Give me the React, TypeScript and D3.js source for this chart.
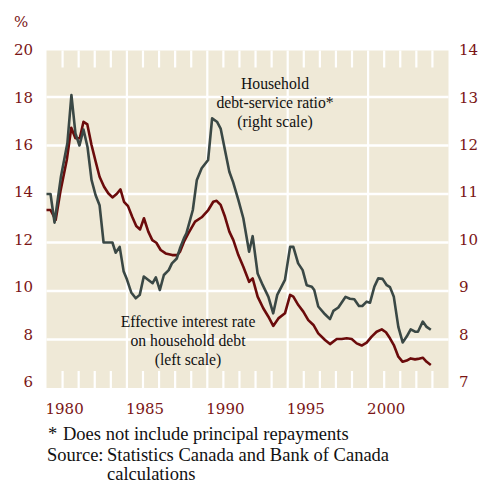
import React from "react";
import * as d3 from "d3";

// effective interest rate on household debt, % (left scale)
const rateYears = [1980.0, 1980.25, 1980.57, 1980.88, 1981.26, 1981.54, 1981.8, 1982.07, 1982.3, 1982.54, 1982.8, 1983.06, 1983.3, 1983.58, 1983.84, 1984.1, 1984.36, 1984.6, 1984.82, 1985.07, 1985.33, 1985.58, 1985.82, 1986.06, 1986.33, 1986.58, 1986.83, 1987.1, 1987.41, 1987.82, 1988.13, 1988.3, 1988.55, 1988.82, 1989.24, 1989.65, 1990.06, 1990.37, 1990.58, 1990.83, 1991.1, 1991.37, 1991.62, 1991.93, 1992.24, 1992.6, 1992.82, 1993.13, 1993.48, 1993.8, 1994.1, 1994.42, 1994.83, 1995.15, 1995.35, 1995.66, 1995.97, 1996.28, 1996.6, 1996.9, 1997.32, 1997.63, 1998.05, 1998.36, 1998.67, 1998.98, 1999.29, 1999.6, 1999.91, 2000.22, 2000.53, 2000.85, 2001.11, 2001.36, 2001.6, 2001.88, 2002.15, 2002.4, 2002.65, 2002.92, 2003.1, 2003.4, 2003.64, 2003.9];
const rateValues = [13.34, 13.34, 12.93, 14.16, 15.4, 16.73, 16.3, 16.3, 16.98, 16.87, 16.02, 15.33, 14.71, 14.3, 14.03, 13.86, 14.0, 14.19, 13.68, 13.5, 13.06, 12.68, 12.54, 13.0, 12.45, 12.1, 11.99, 11.69, 11.55, 11.48, 11.48, 11.62, 12.03, 12.38, 12.86, 13.04, 13.34, 13.68, 13.72, 13.55, 13.06, 12.45, 12.1, 11.48, 11.0, 10.38, 10.52, 9.77, 9.29, 8.94, 8.56, 8.87, 9.08, 9.84, 9.77, 9.42, 9.15, 8.8, 8.6, 8.25, 7.98, 7.81, 8.02, 8.02, 8.05, 8.02, 7.84, 7.75, 7.87, 8.12, 8.32, 8.42, 8.3, 8.05, 7.77, 7.29, 7.08, 7.13, 7.22, 7.18, 7.2, 7.25, 7.08, 6.95];

// household debt-service ratio, % (right scale)
const ratioYears = [1980.0, 1980.25, 1980.5, 1980.9, 1981.3, 1981.55, 1981.8, 1982.05, 1982.3, 1982.55, 1982.8, 1983.05, 1983.3, 1983.55, 1984.1, 1984.3, 1984.55, 1984.8, 1985.0, 1985.27, 1985.55, 1985.8, 1986.05, 1986.6, 1986.8, 1987.05, 1987.3, 1987.6, 1987.8, 1988.1, 1988.3, 1988.55, 1988.7, 1989.1, 1989.35, 1989.65, 1990.05, 1990.3, 1990.6, 1990.83, 1991.1, 1991.37, 1991.6, 1991.93, 1992.24, 1992.6, 1992.82, 1993.13, 1993.45, 1993.8, 1994.1, 1994.35, 1994.83, 1995.15, 1995.35, 1995.65, 1995.93, 1996.18, 1996.5, 1996.65, 1996.9, 1997.32, 1997.63, 1997.84, 1998.15, 1998.6, 1998.87, 1999.14, 1999.43, 1999.64, 1999.91, 2000.12, 2000.39, 2000.63, 2000.9, 2001.16, 2001.36, 2001.6, 2001.88, 2002.15, 2002.4, 2002.65, 2002.92, 2003.1, 2003.4, 2003.64, 2003.9];
const ratioValues = [11.0, 11.0, 10.41, 11.36, 12.05, 13.04, 12.25, 12.0, 12.33, 11.97, 11.29, 10.98, 10.77, 10.0, 10.0, 9.79, 9.91, 9.4, 9.24, 8.97, 8.85, 8.92, 9.3, 9.16, 9.28, 9.02, 9.33, 9.43, 9.57, 9.67, 9.88, 10.09, 10.19, 10.67, 11.29, 11.53, 11.7, 12.56, 12.49, 12.35, 11.9, 11.46, 11.25, 10.88, 10.5, 9.81, 10.13, 9.36, 9.12, 8.88, 8.54, 8.92, 9.23, 9.91, 9.91, 9.57, 9.43, 9.12, 9.09, 9.02, 8.68, 8.52, 8.42, 8.59, 8.66, 8.88, 8.84, 8.83, 8.69, 8.69, 8.78, 8.76, 9.09, 9.26, 9.25, 9.12, 9.08, 8.88, 8.26, 7.94, 8.06, 8.21, 8.16, 8.16, 8.37, 8.26, 8.2];

const leftTicks = [6, 8, 10, 12, 14, 16, 18, 20];
const rightTicks = [7, 8, 9, 10, 11, 12, 13, 14];
const yearLabels = [1980, 1985, 1990, 1995, 2000];
const minorYears = d3.range(1981, 2005);

const ratioNote = ["Household", "debt-service ratio*", "(right scale)"];
const rateNote = ["Effective interest rate", "on household debt", "(left scale)"];

const RED = "#6b0b0b";
const GREY = "#3a4845";
const LABEL = "#7a1515";
const BG = "#efe9d7";

export default function App() {
  const W = 483, H = 483;
  const left = 46.5, right = 448.5, bottom = 388;

  const x = d3.scaleLinear().domain([1980, 2005]).range([left, right]);
  const y = d3.scaleLinear().domain([6, 20]).range([bottom, 48.5]);
  const yR = d3.scaleLinear().domain([7, 14]).range([bottom, 48.5]);
  // tick labels sit a little tighter than the grid in the original
  const yLab = d3.scaleLinear().domain([6, 20]).range([381.5, 50]);
  const top = 50.5;

  const rateLine = d3.line<number>()
    .x((d, i) => x(rateYears[i]))
    .y((d) => y(d));
  const ratioLine = d3.line<number>()
    .x((d, i) => x(ratioYears[i]))
    .y((d) => yR(d));

  const tickFont = { fontFamily: "'DejaVu Serif', serif", fontSize: 15, fill: LABEL };
  const noteFont = { fontFamily: "'Liberation Serif', serif", fontSize: 15.7, fill: "#111" };

  return (
    <div style={{ position: "absolute", left: 0, top: 0 }}>
      <svg width={W} height={H} style={{ display: "block", background: "#fff" }}>
        <rect x={left} y={top} width={right - left} height={bottom - top} fill={BG} />
        {/* horizontal grid */}
        {leftTicks.filter((t) => t > 6 && t < 20).map((t) => (
          <line key={t} x1={left} x2={right} y1={y(t)} y2={y(t)} stroke="#fff" strokeWidth={2.5} />
        ))}
        {/* vertical 5-year grid */}
        {yearLabels.slice(1).map((yr) => (
          <line key={yr} x1={x(yr)} x2={x(yr)} y1={top} y2={bottom} stroke="#fff" strokeWidth={2.2} />
        ))}
        {/* yearly ticks top and bottom */}
        {minorYears.filter((yr) => yr % 5 !== 0).map((yr) => (
          <g key={yr}>
            <line x1={x(yr)} x2={x(yr)} y1={top} y2={top + 17} stroke="#fff" strokeWidth={2.2} />
            <line x1={x(yr)} x2={x(yr)} y1={bottom - 17} y2={bottom} stroke="#fff" strokeWidth={2.2} />
          </g>
        ))}

        <path d={rateLine(rateValues) || ""} fill="none" stroke={RED} strokeWidth={2.6} strokeLinejoin="round" />
        <path d={ratioLine(ratioValues) || ""} fill="none" stroke={GREY} strokeWidth={2.6} strokeLinejoin="round" />

        {/* left axis */}
        <text x={14} y={27} style={tickFont}>%</text>
        {leftTicks.map((t) => (
          <text key={t} x={33} y={yLab(t)} dy="0.36em" textAnchor="end" style={tickFont}>{t}</text>
        ))}
        {/* right axis */}
        {rightTicks.map((t) => (
          <text key={t} x={459} y={yLab(t * 2 - 8)} dy="0.36em" style={tickFont}>{t}</text>
        ))}
        {/* x axis */}
        {yearLabels.map((yr) => (
          <text key={yr} x={x(yr) - 1} y={414} style={tickFont}>{yr}</text>
        ))}

        {ratioNote.map((s, i) => (
          <text key={s} x={275} y={89 + i * 19} textAnchor="middle" style={noteFont}>{s}</text>
        ))}
        {rateNote.map((s, i) => (
          <text key={s} x={188} y={327 + i * 19} textAnchor="middle" style={noteFont}>{s}</text>
        ))}

        <g style={{ fontFamily: "'Liberation Serif', serif", fontSize: 18.5, fill: "#111" }}>
          <text x={48} y={440}>*</text>
          <text x={63} y={440}>Does not include principal repayments</text>
          <text x={47} y={460.5}>Source:</text>
          <text x={107} y={460.5}>Statistics Canada and Bank of Canada</text>
          <text x={107} y={479.5}>calculations</text>
        </g>
      </svg>
    </div>
  );
}
